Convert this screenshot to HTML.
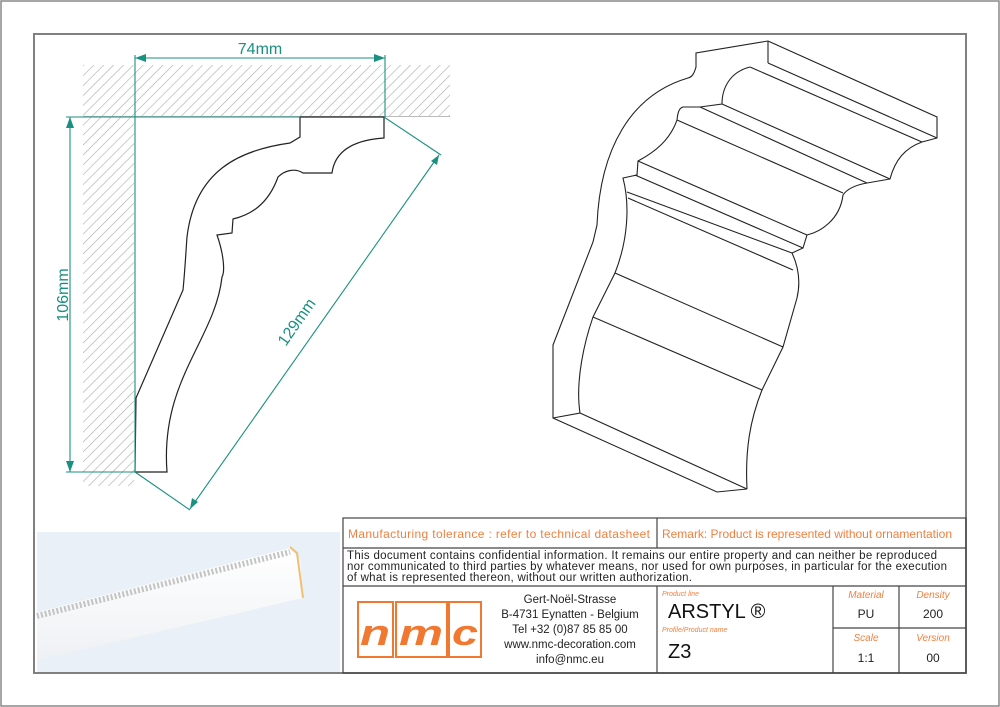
<!DOCTYPE html>
<html><head><meta charset="utf-8"><style>
html,body{margin:0;padding:0;background:#fff}
svg{display:block}
text{font-family:"Liberation Sans",sans-serif}
</style></head><body>
<svg width="1000" height="707" viewBox="0 0 1000 707" xmlns="http://www.w3.org/2000/svg">
<defs>
<pattern id="h" width="7" height="7" patternUnits="userSpaceOnUse" patternTransform="rotate(45)">
<line x1="0" y1="0" x2="0" y2="7" stroke="#aaa" stroke-width="1.2"/>
</pattern>
<linearGradient id="pg" x1="0" y1="0" x2="0" y2="1"><stop offset="0" stop-color="#fff"/><stop offset="1" stop-color="#eef1f4"/></linearGradient>
</defs>
<rect x="1" y="1" width="998" height="705" fill="#fff" stroke="#888" stroke-width="1.5"/>
<rect x="34" y="34" width="932" height="639" fill="#fff" stroke="#808080" stroke-width="2"/>

<rect x="83" y="65" width="367" height="51" fill="url(#h)"/>
<rect x="83" y="116" width="51" height="370" fill="url(#h)"/>
<rect x="134" y="117" width="316" height="368" fill="#fff"/>
<line x1="83" y1="116.5" x2="450" y2="116.5" stroke="#bbb"/>

<path d="M300,117 L384,117 L384,138 C355,140 335,150 332,173 L303,173 C295,168 285,170 278,177 C268,205 250,215 233,219 L232,233 L217,235 C224,255 225,272 222,277 C215,340 160,380 167,472 L135,472 L136,398 L183,290 C185,270 186,250 187,237 C195,170 240,150 290,143 L300,137 Z" fill="#fff" stroke="#222" stroke-width="1.2"/>

<g stroke="#1a9080" stroke-width="1.1" fill="none">
<line x1="135" y1="55" x2="135" y2="117"/>
<line x1="385" y1="55" x2="385" y2="117"/>
<line x1="135" y1="58" x2="385" y2="58"/>
<line x1="66" y1="117" x2="300" y2="117"/>
<line x1="66" y1="472" x2="135" y2="472"/>
<line x1="70" y1="117" x2="70" y2="472"/>
<line x1="135" y1="117" x2="135" y2="472"/>
<line x1="384" y1="117" x2="441" y2="155"/>
<line x1="135" y1="472" x2="190" y2="510"/>
<line x1="190" y1="509" x2="439" y2="155"/>
</g>
<g fill="#1a9080">
<polygon points="135,58 146,54 146,62"/>
<polygon points="385,58 374,54 374,62"/>
<polygon points="70,117 66,128 74,128"/>
<polygon points="70,472 66,461 74,461"/>
<polygon points="439,155 431,161 437,165"/>
<polygon points="190,509 192,498 198,502"/>
</g>
<text x="260" y="54" font-size="16" fill="#1a9080" text-anchor="middle">74mm</text>
<text x="0" y="0" font-size="16" fill="#1a9080" text-anchor="middle" transform="translate(68,295) rotate(-90)">106mm</text>
<text x="0" y="0" font-size="16" fill="#1a9080" text-anchor="middle" transform="translate(301,325) rotate(-55)">129mm</text>

<g stroke="#222" stroke-width="1.1" fill="none">
<path d="M768,41 L696,53 L696,67 C694,74 692,77 688,78 C630,95 600,150 597,225 L593,242 L553,345 L553,418 L717,492 L747,489"/>
<path d="M768,41 L937,117 L937,138 L922,142 C905,148 895,160 890,179 L867,183 C850,186 845,192 843,195 C840,220 820,232 807,235 L803,248 L792,253 C800,270 800,285 797,298 L783,347 L762,390 C750,420 745,450 747,489"/>
<path d="M553,418 L580,413 C575,380 585,340 593,317 L615,273 C628,240 630,205 623,178 L637,175 L638,161 C655,152 670,140 677,120 C678,110 680,108 683,107 L700,107 L722,104 C722,88 730,72 750,67"/>
<line x1="768" y1="41" x2="768" y2="63"/>
<line x1="768" y1="63" x2="937" y2="138"/>
<line x1="750" y1="67" x2="922" y2="142"/>
<line x1="722" y1="104" x2="890" y2="179"/>
<line x1="700" y1="107" x2="867" y2="183"/>
<line x1="677" y1="120" x2="843" y2="193"/>
<line x1="638" y1="161" x2="807" y2="235"/>
<line x1="635" y1="175" x2="803" y2="248"/>
<line x1="627" y1="192" x2="792" y2="253"/>
<line x1="628" y1="198" x2="793" y2="270"/>
<line x1="615" y1="273" x2="783" y2="347"/>
<line x1="593" y1="317" x2="762" y2="390"/>
<line x1="580" y1="413" x2="747" y2="489"/>
</g>

<rect x="37" y="532" width="303" height="140" fill="#eaf0f8"/>
<path d="M37,612 L290,548 L300,560 L303,598 L37,660 Z" fill="url(#pg)"/>
<path d="M37,616 L290,552" stroke="#c4c4c4" stroke-width="6" stroke-dasharray="2,2"/>
<path d="M290,547 L297,553 L303,598" stroke="#f0c070" stroke-width="2" fill="none"/>

<g stroke="#444" stroke-width="1.2" fill="none">
<rect x="343" y="518" width="623" height="155"/>
<line x1="343" y1="548" x2="966" y2="548"/>
<line x1="343" y1="586" x2="966" y2="586"/>
<line x1="657" y1="518" x2="657" y2="548"/>
<line x1="657" y1="586" x2="657" y2="673"/>
<line x1="833" y1="586" x2="833" y2="673"/>
<line x1="899" y1="586" x2="899" y2="673"/>
<line x1="833" y1="628" x2="966" y2="628"/>
</g>
<text x="348" y="538" font-size="12" fill="#f08040" textLength="302">Manufacturing tolerance : refer to technical datasheet</text>
<text x="662" y="538" font-size="12" fill="#f08040" textLength="290">Remark: Product is represented without ornamentation</text>
<text font-size="11.5" fill="#222"><tspan x="347" y="559" textLength="590">This document contains confidential information. It remains our entire property and can neither be reproduced</tspan><tspan x="347" y="570" textLength="600">nor communicated to third parties by whatever means, nor used for own purposes, in particular for the execution</tspan><tspan x="347" y="581" textLength="345">of what is represented thereon, without our written authorization.</tspan></text>

<g stroke="#f07830" stroke-width="2" fill="none">
<rect x="358" y="602" width="35" height="55"/>
<rect x="396" y="602" width="51" height="55"/>
<rect x="449" y="602" width="32" height="55"/>
</g>
<g font-size="36" font-weight="bold" font-style="italic" fill="#f07830" text-anchor="middle">
<text x="375" y="645" textLength="30" lengthAdjust="spacingAndGlyphs">n</text>
<text x="421" y="645" textLength="44" lengthAdjust="spacingAndGlyphs">m</text>
<text x="465" y="645" textLength="26" lengthAdjust="spacingAndGlyphs">c</text>
</g>

<g font-size="11.5" fill="#222" text-anchor="middle">
<text x="570" y="603">Gert-Noël-Strasse</text>
<text x="570" y="618">B-4731 Eynatten - Belgium</text>
<text x="570" y="633">Tel +32 (0)87 85 85 00</text>
<text x="570" y="648">www.nmc-decoration.com</text>
<text x="570" y="663">info@nmc.eu</text>
</g>
<text x="662" y="596" font-size="7" font-style="italic" fill="#f08040">Product line</text>
<text x="668" y="618" font-size="20" fill="#111">ARSTYL ®</text>
<text x="662" y="632" font-size="7" font-style="italic" fill="#f08040">Profile/Product name</text>
<text x="668" y="658" font-size="20" fill="#111">Z3</text>
<g font-size="10" font-style="italic" fill="#f08040" text-anchor="middle">
<text x="866" y="598">Material</text><text x="933" y="598">Density</text>
<text x="866" y="641">Scale</text><text x="933" y="641">Version</text>
</g>
<g font-size="12" fill="#222" text-anchor="middle">
<text x="866" y="618">PU</text><text x="933" y="618">200</text>
<text x="866" y="662">1:1</text><text x="933" y="662">00</text>
</g>
</svg>
</body></html>
